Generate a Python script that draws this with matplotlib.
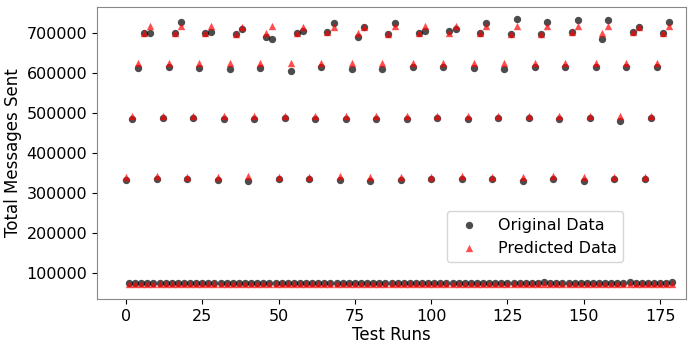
import matplotlib.pyplot as plt
import numpy as np

# ---- data (values per test run) ---- #
n_runs = 180
runs = np.arange(n_runs)

# high-load runs, one value every 10 runs, offset 0,2,4,6,8
orig_off0 = [332500, 334000, 336000, 332500, 329000, 334000, 336000, 332500, 329000,
             332500, 334000, 334000, 334000, 331000, 334000, 331000, 334000, 334000]
pred_off0 = [341000, 341500, 341000, 341000, 341500, 341000, 341000, 341500, 341000,
             341000, 341000, 341500, 341000, 341000, 341500, 341000, 341000, 341000]

orig_off2 = [484000, 487000, 487000, 484000, 484000, 487000, 484000, 484000, 484000,
             484000, 487000, 484000, 487000, 487000, 484000, 487000, 479000, 487000]
pred_off2 = [492000, 491500, 492000, 492000, 491500, 492000, 492000, 492000, 491500,
             492000, 492000, 491500, 492000, 492000, 492000, 491500, 492000, 492000]

orig_off4 = [612000, 614000, 612000, 609000, 612000, 606000, 614000, 609000, 609000,
             614000, 614000, 612000, 611000, 614000, 614000, 616000, 616000, 614000]
pred_off4 = [624000, 624000, 624500, 624000, 624000, 624000, 624000, 624500, 624000,
             624000, 624000, 624000, 624000, 624500, 624000, 624000, 624000, 624000]

orig_off6 = [699000, 699000, 700000, 697000, 691000, 699000, 702000, 691000, 698000,
             699000, 704000, 699000, 698000, 698000, 702500, 686000, 702500, 699000]
pred_off6 = [699000, 699000, 700000, 697000, 701000, 699000, 702000, 701000, 698000,
             699000, 700000, 699000, 698000, 698000, 702000, 701000, 702000, 699000]

orig_off8 = [699000, 727500, 702500, 711000, 686000, 704000, 724000, 714000, 724000,
             704000, 709000, 726000, 734000, 727500, 732500, 732500, 716000, 727500]
pred_off8 = [717000, 717000, 717000, 716000, 717000, 716000, 716000, 715000, 717000,
             717000, 717000, 717000, 717000, 717000, 717000, 717000, 716000, 717000]

# low-load runs (all odd runs)
orig_low = [75000, 75500, 75000, 76000, 75000, 75500, 75000, 75000, 76000, 75500,
            74500, 75000, 75500, 75000, 75500, 74500, 75000, 75500, 76000, 75000,
            74500, 75000, 75000, 75500, 76000, 75000, 75000, 75500, 75000, 75000,
            75500, 75000, 75000, 74500, 75500, 75000, 76000, 75000, 75500, 75000,
            75000, 75500, 76000, 75000, 75500, 75000, 74500, 75000, 75500, 75000,
            75000, 75500, 75000, 75000, 76000, 75500, 75000, 75000, 75500, 75000,
            75500, 76000, 75000, 75000, 75500, 75000, 75000, 75500, 78500, 75000,
            75000, 75500, 75000, 75000, 75500, 75000, 75500, 75000, 75000, 75500,
            75000, 75000, 78500, 75000, 75500, 75000, 75000, 75500, 75000, 78000]
pred_low = [73000, 73000, 73500, 73000, 73000, 73000, 73500, 73000, 73000, 73000,
            73000, 73500, 73000, 73000, 73000, 73000, 73500, 73000, 73000, 73000,
            73000, 73000, 73500, 73000, 73000, 73000, 73000, 73500, 73000, 73000,
            73000, 73500, 73000, 73000, 73000, 73000, 73500, 73000, 73000, 73000,
            73000, 73000, 73500, 73000, 73000, 73000, 73500, 73000, 73000, 73000,
            73000, 73500, 73000, 73000, 73000, 73000, 73500, 73000, 73000, 73000,
            73000, 73000, 73500, 73000, 73000, 73000, 73500, 73000, 73000, 73000,
            73000, 73500, 73000, 73000, 73000, 73000, 73500, 73000, 73000, 73000,
            73000, 73000, 73500, 73000, 73000, 73000, 73500, 73000, 73000, 73500]

yticks = [100000, 200000, 300000, 400000, 500000, 600000, 700000]
xticks = [0, 25, 50, 75, 100, 125, 150, 175]

# ---- assemble series in run order ---- #
original = np.zeros(n_runs)
predicted = np.zeros(n_runs)
for off, o, p in [(0, orig_off0, pred_off0), (2, orig_off2, pred_off2),
                  (4, orig_off4, pred_off4), (6, orig_off6, pred_off6),
                  (8, orig_off8, pred_off8)]:
    original[off::10] = o
    predicted[off::10] = p
original[1::2] = orig_low
predicted[1::2] = pred_low

# ------- Plot --------- #
fig = plt.figure(figsize=(6.91, 3.45), dpi=100)
ax = fig.add_axes([97 / 691, 46 / 345, 589 / 691, 292 / 345])

ax.scatter(runs, original, s=28, color='black', alpha=0.7, linewidths=0,
           label='Original Data')
ax.scatter(runs, predicted, s=28, color='red', alpha=0.7, marker='^', linewidths=0,
           label='Predicted Data')

ax.set_xlim(-9.5, 183.5)
ax.set_ylim(35000, 765000)
ax.set_xticks(xticks)
ax.set_yticks(yticks)
ax.ticklabel_format(axis='y', style='plain')
ax.tick_params(labelsize=11.5)
for sp in ax.spines.values():
    sp.set_color('#888888')

ax.set_xlabel('Test Runs', fontsize=12, labelpad=2)
ax.set_ylabel('Total Messages Sent', fontsize=12, labelpad=3)
ax.legend(loc='lower left', bbox_to_anchor=(0.594, 0.127), borderaxespad=0,
          fontsize=11.5, frameon=True)

fig.savefig('out.png', dpi=100)
